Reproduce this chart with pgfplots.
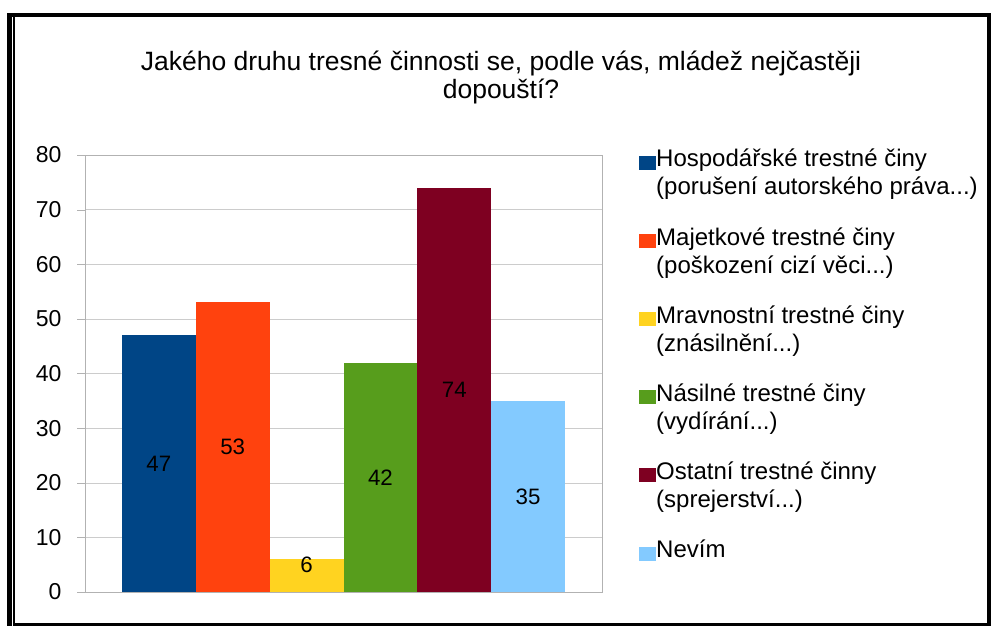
\documentclass[border=0pt]{standalone}
\usepackage{pgfplots}
\pgfplotsset{compat=1.18}
\usepackage{fontspec}
\setmainfont{Liberation Sans}
\definecolor{c1}{HTML}{004586}
\definecolor{c2}{HTML}{FF420E}
\definecolor{c3}{HTML}{FFD320}
\definecolor{c4}{HTML}{579D1C}
\definecolor{c5}{HTML}{7E0021}
\definecolor{c6}{HTML}{83CAFF}
\begin{document}
\begin{tikzpicture}
\useasboundingbox (0pt,0pt) rectangle (991pt,626pt);
% frame
\draw[line width=4pt] (7pt,611.3pt) -- (991pt,611.3pt);
\draw[line width=4.7pt] (9.7pt,0pt) -- (9.7pt,613.3pt);
\draw[line width=2pt] (14.3pt,1.5pt) -- (14.3pt,609.3pt);
\draw[line width=4pt] (989pt,0pt) -- (989pt,613.3pt);
\draw[line width=3pt] (13.3pt,1.5pt) -- (991pt,1.5pt);
% title
\node[align=center, anchor=base, font=\fontsize{26.5}{28}\selectfont] at (501pt,527.3pt)
  {Jakého druhu tresné činnosti se, podle vás, mládež nejčastěji\\dopouští?};
\begin{axis}[
  at={(85pt,34pt)}, anchor=south west,
  width=517pt, height=437pt, scale only axis,
  xmin=-1, xmax=6, ymin=0, ymax=80,
  ytick={0,10,...,80}, xtick=\empty,
  ymajorgrids, grid style={color=black!20},
  axis line style={black!30}, tick style={black!30},
  ytick pos=left, tick align=outside, major tick length=8pt,
  yticklabel style={font=\fontsize{23}{25}\selectfont, xshift=-12pt},
  /pgf/number format/assume math mode=true,
  legend style={at={(1.0658,1.0183)}, anchor=north west, draw=none,
    font=\fontsize{24}{28}\selectfont, row sep=31pt,
    nodes={inner sep=0pt, align=left}},
  legend cell align=left,
  legend image code/.code={\fill (0pt,3pt) rectangle (14pt,17pt); \path (0pt,3pt) rectangle (17pt,17pt);},
]
\addplot[ybar, bar width=1, bar shift=0, fill=c1, draw=none] coordinates {(0,47)};
\addlegendentry{Hospodářské trestné činy\\(porušení autorského práva...)}
\addplot[ybar, bar width=1, bar shift=0, fill=c2, draw=none] coordinates {(1,53)};
\addlegendentry{Majetkové trestné činy\\(poškození cizí věci...)}
\addplot[ybar, bar width=1, bar shift=0, fill=c3, draw=none] coordinates {(2,6)};
\addlegendentry{Mravnostní trestné činy\\(znásilnění...)}
\addplot[ybar, bar width=1, bar shift=0, fill=c4, draw=none] coordinates {(3,42)};
\addlegendentry{Násilné trestné činy\\(vydírání...)}
\addplot[ybar, bar width=1, bar shift=0, fill=c5, draw=none] coordinates {(4,74)};
\addlegendentry{Ostatní trestné činny\\(sprejerství...)}
\addplot[ybar, bar width=1, bar shift=0, fill=c6, draw=none] coordinates {(5,35)};
\addlegendentry{Nevím\\\mbox{}}
\addplot[draw=none, mark=none, forget plot, nodes near coords,
  point meta=explicit symbolic,
  every node near coord/.append style={anchor=center, font=\fontsize{22.3}{25}\selectfont, text=black}]
  coordinates {(0,23.5)[47] (1,26.5)[53] (2,4.9)[6] (3,21)[42] (4,37)[74] (5,17.5)[35]};
\end{axis}
\end{tikzpicture}
\end{document}
